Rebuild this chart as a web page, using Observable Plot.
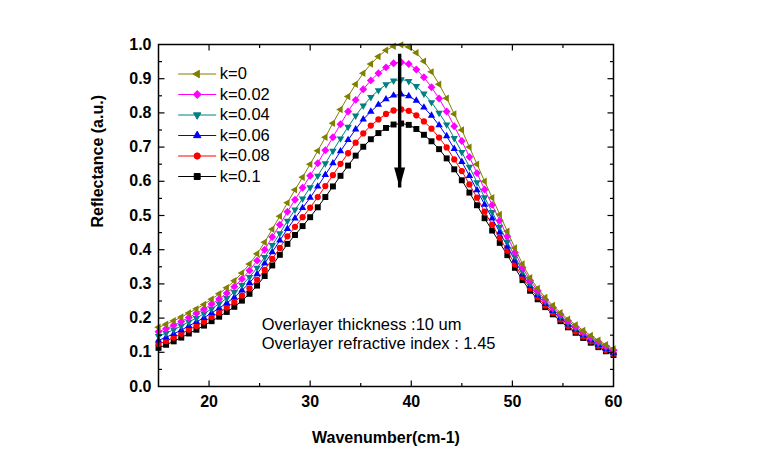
<!DOCTYPE html>
<html><head><meta charset="utf-8">
<script src="https://cdn.jsdelivr.net/npm/d3@7"></script>
<script src="https://cdn.jsdelivr.net/npm/@observablehq/plot@0.6"></script>
<style>html,body{margin:0;padding:0;background:#fff;overflow:hidden}</style>
</head><body><div id="chart"></div>
<script>
// ---- data ----
const wavenumber = [15,15.75,16.5,17.25,18,18.75,19.5,20.25,21,21.75,22.5,23.25,24,24.75,25.5,26.25,27,27.75,28.5,29.25,30,30.75,31.5,32.25,33,33.75,34.5,35.25,36,36.75,37.5,38.25,39,39.75,40.5,41.25,42,42.75,43.5,44.25,45,45.75,46.5,47.25,48,48.75,49.5,50.25,51,51.75,52.5,53.25,54,54.75,55.5,56.25,57,57.75,58.5,59.25,60];
const k0   = [.173,.182,.192,.203,.215,.227,.240,.255,.271,.289,.309,.332,.358,.388,.422,.460,.498,.537,.575,.612,.650,.689,.729,.770,.810,.848,.884,.916,.943,.965,.983,.995,.999,.993,.976,.951,.920,.884,.843,.797,.750,.700,.650,.600,.552,.503,.454,.405,.358,.318,.287,.260,.237,.216,.197,.180,.164,.149,.135,.122,.110];
const k002 = [.160,.169,.179,.190,.202,.214,.226,.241,.256,.273,.292,.314,.339,.368,.400,.437,.473,.511,.546,.581,.616,.653,.691,.729,.767,.804,.838,.869,.895,.916,.933,.945,.948,.943,.927,.904,.875,.842,.804,.761,.718,.671,.624,.576,.531,.485,.439,.392,.348,.310,.280,.254,.231,.211,.192,.175,.159,.144,.131,.118,.106];
const k004 = [.147,.156,.166,.177,.189,.200,.213,.227,.242,.258,.276,.296,.320,.347,.378,.413,.448,.484,.517,.549,.582,.616,.652,.689,.725,.759,.792,.821,.846,.866,.883,.894,.898,.893,.878,.856,.831,.800,.766,.726,.685,.642,.597,.553,.510,.467,.423,.380,.337,.301,.273,.248,.226,.205,.186,.170,.154,.140,.126,.114,.102];
const k006 = [.135,.144,.154,.165,.177,.189,.201,.215,.229,.244,.261,.281,.303,.329,.360,.393,.427,.461,.492,.522,.552,.585,.619,.653,.688,.721,.752,.781,.804,.824,.840,.851,.854,.849,.836,.816,.792,.764,.732,.695,.657,.616,.574,.532,.492,.451,.410,.369,.328,.294,.267,.242,.221,.200,.182,.166,.150,.136,.122,.110,.099];
const k008 = [.124,.133,.143,.154,.166,.177,.189,.203,.216,.231,.247,.266,.287,.312,.341,.373,.405,.439,.467,.495,.523,.554,.586,.618,.651,.682,.713,.740,.763,.781,.797,.807,.810,.806,.793,.775,.754,.728,.699,.664,.630,.591,.552,.511,.473,.435,.397,.357,.320,.287,.261,.237,.216,.196,.177,.161,.146,.132,.119,.106,.095];
const k01  = [.113,.122,.132,.143,.155,.166,.178,.191,.204,.218,.233,.251,.271,.295,.323,.354,.385,.417,.443,.469,.495,.524,.554,.585,.616,.646,.675,.701,.723,.741,.756,.766,.769,.765,.753,.736,.717,.694,.667,.635,.603,.567,.530,.492,.456,.420,.384,.347,.311,.280,.255,.232,.211,.191,.173,.157,.142,.128,.115,.103,.092];
const seriesNames = ["k=0","k=0.02","k=0.04","k=0.06","k=0.08","k=0.1"];
const seriesValues = [k0,k002,k004,k006,k008,k01];
const xTickLabels = [20,30,40,50,60];
const xMajorTicks = [20,30,40,50];
const xMinorTicks = [25,35,45,55];
const yTickLabels = [0,0.1,0.2,0.3,0.4,0.5,0.6,0.7,0.8,0.9,1.0];
const yMajorTicks = [0.1,0.2,0.3,0.4,0.5,0.6,0.7,0.8,0.9];
const yMinorTicks = [0.05,0.15,0.25,0.35,0.45,0.55,0.65,0.75,0.85,0.95];
const annotations = [
  {x: 25.2, y: 0.181, text: "Overlayer thickness :10 um"},
  {x: 25.2, y: 0.126, text: "Overlayer refractive index : 1.45"}
];
const arrowData = [{x: 38.85, yTop: 0.973, yTip: 0.582}];

// ---- styles ----
const colors = ["#808000","#ff00ff","#008080","#0000ff","#ff0000","#000000"];
function poly(pts, k) {
  return {draw(ctx, size) {
    const r = Math.sqrt(size / Math.PI) * k;
    ctx.moveTo(pts[0][0]*r, pts[0][1]*r);
    for (let i = 1; i < pts.length; i++) ctx.lineTo(pts[i][0]*r, pts[i][1]*r);
    ctx.closePath();
  }};
}
const symLeft = poly([[-1,0],[0.5,-0.866],[0.5,0.866]], 1.3);
const symDiamond = poly([[0,-1],[1,0],[0,1],[-1,0]], 1.2);
const symDown = poly([[0,1],[0.866,-0.5],[-0.866,-0.5]], 1.3);
const symUp = poly([[0,-1],[0.866,0.5],[-0.866,0.5]], 1.3);
const symCircle = {draw(ctx, size){const r = Math.sqrt(size/Math.PI)*0.95; ctx.moveTo(r,0); ctx.arc(0,0,r,0,2*Math.PI);}};
const symSquare = poly([[-1,-1],[1,-1],[1,1],[-1,1]], 0.9);
const symbols = [symLeft, symDiamond, symDown, symUp, symCircle, symSquare];
const withLine = (s) => ({draw(ctx, size){ctx.moveTo(-19,0); ctx.lineTo(19,0); s.draw(ctx, size);}});
const seg = (dx, dy) => ({draw(ctx){ctx.moveTo(0,0); ctx.lineTo(dx,dy);}});

const series = seriesValues.map((vals, s) => wavenumber.map((x, i) => ({x, y: vals[i]})));
const order = [5,4,3,2,1,0];
const R = 3.3;

const tickStyle = {fill: "none", stroke: "black", strokeWidth: 1.2};
const marks = [
  ...order.flatMap(s => [
    Plot.line(series[s], {x: "x", y: "y", stroke: colors[s], strokeWidth: 1}),
    Plot.dot(series[s], {x: "x", y: "y", fill: colors[s], symbol: symbols[s], r: R})
  ]),
  // ticks (inward, on all four sides)
  Plot.dot(xMajorTicks, {x: d => d, frameAnchor: "bottom", symbol: seg(0,-6), ...tickStyle}),
  Plot.dot(xMinorTicks, {x: d => d, frameAnchor: "bottom", symbol: seg(0,-3.5), ...tickStyle}),
  Plot.dot(xMajorTicks, {x: d => d, frameAnchor: "top", symbol: seg(0,6), ...tickStyle}),
  Plot.dot(xMinorTicks, {x: d => d, frameAnchor: "top", symbol: seg(0,3.5), ...tickStyle}),
  Plot.dot(yMajorTicks, {y: d => d, frameAnchor: "left", symbol: seg(6,0), ...tickStyle}),
  Plot.dot(yMinorTicks, {y: d => d, frameAnchor: "left", symbol: seg(3.5,0), ...tickStyle}),
  Plot.dot(yMajorTicks, {y: d => d, frameAnchor: "right", symbol: seg(-6,0), ...tickStyle}),
  Plot.dot(yMinorTicks, {y: d => d, frameAnchor: "right", symbol: seg(-3.5,0), ...tickStyle}),
  Plot.frame({stroke: "black", strokeWidth: 1.5}),
  // tick labels
  Plot.text(xTickLabels, {x: d => d, frameAnchor: "bottom", dy: 15, text: d => String(d), fontWeight: "bold", fontSize: 16, lineAnchor: "middle", fill: "black"}),
  Plot.text(yTickLabels, {y: d => d, frameAnchor: "left", dx: -7, textAnchor: "end", text: d => d.toFixed(1), fontWeight: "bold", fontSize: 16, lineAnchor: "middle", fill: "black"}),
  // axis titles
  Plot.text(["Wavenumber(cm-1)"], {frameAnchor: "bottom", dy: 51, text: d => d, fontWeight: "bold", fontSize: 16, lineAnchor: "middle", fill: "black"}),
  Plot.text(["Reflectance (a.u.)"], {frameAnchor: "left", dx: -61, dy: 12, rotate: -90, text: d => d, fontWeight: "bold", fontSize: 16, lineAnchor: "middle", fill: "black"}),
  // annotations
  Plot.text(annotations, {x: "x", y: "y", text: "text", textAnchor: "start", lineAnchor: "middle", fontSize: 16.5, fill: "black"}),
  // arrow
  Plot.link(arrowData, {x1: "x", x2: "x", y1: "yTop", y2: "yTip", stroke: "black", strokeWidth: 3.4}),
  Plot.dot(arrowData, {x: "x", y: "yTip", fill: "black", symbol: {draw(ctx){ctx.moveTo(0,0); ctx.lineTo(-5.5,-20); ctx.lineTo(5.5,-20); ctx.closePath();}}}),
  // legend
  ...seriesNames.flatMap((name, s) => [
    Plot.dot([name], {frameAnchor: "top-left", dx: 38.7, dy: 29.5 + s*20.5, symbol: withLine(symbols[s]), r: R, fill: colors[s], stroke: colors[s], strokeWidth: 1}),
    Plot.text([name], {frameAnchor: "top-left", dx: 61.3, dy: 29.5 + s*20.5, text: d => d, textAnchor: "start", lineAnchor: "middle", fontSize: 16.5, fill: "black"})
  ])
];

const chart = Plot.plot({
  width: 780, height: 465,
  marginLeft: 158, marginRight: 167, marginTop: 44, marginBottom: 79,
  x: {domain: [15, 60], axis: null},
  y: {domain: [0, 1], axis: null},
  style: {fontFamily: "'Liberation Sans', Arial, sans-serif", background: "white", color: "black"},
  marks
});
document.getElementById("chart").appendChild(chart);
</script>
</body></html>
